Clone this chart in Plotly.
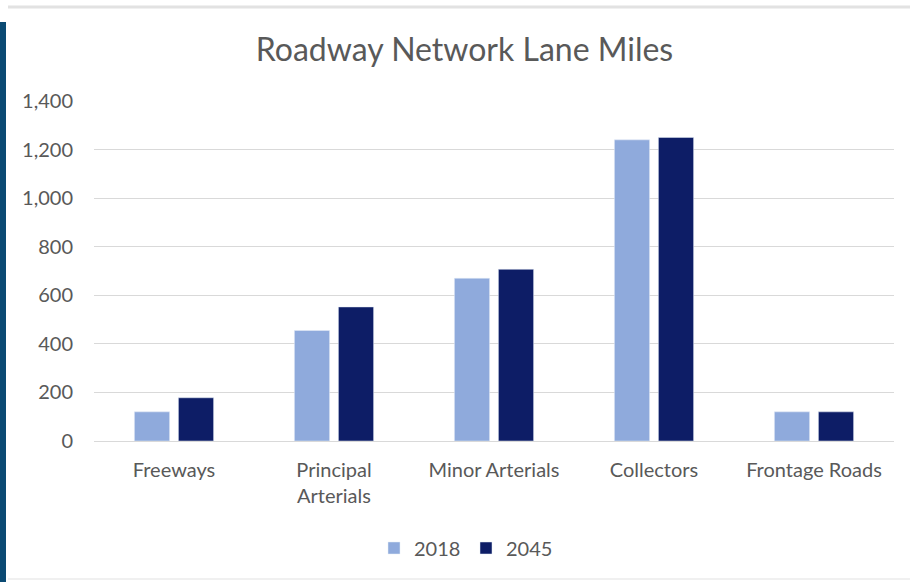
import plotly.graph_objects as go

categories = ["Freeways", "Principal<br>Arterials", "Minor Arterials", "Collectors", "Frontage Roads"]
values_2018 = [120, 455, 670, 1240, 120]
values_2045 = [178, 552, 707, 1250, 120]
tick_vals = [0, 200, 400, 600, 800, 1000, 1200, 1400]

fig = go.Figure()
fig.add_trace(go.Bar(name="2018", x=categories, y=values_2018, marker_color="#8faadc"))
fig.add_trace(go.Bar(name="2045", x=categories, y=values_2045, marker_color="#0d1d66"))

font_family = "Lato, 'Open Sans', sans-serif"
grey = "#595959"
fig.update_layout(
    width=911, height=582,
    margin=dict(l=94, r=17, t=101, b=141),
    paper_bgcolor="white", plot_bgcolor="white",
    barmode="group", bargap=0.45, bargroupgap=0.2,
    title=dict(text="Roadway Network Lane Miles", x=464.5 / 911, xanchor="center",
               y=1 - 50 / 582, yanchor="middle",
               font=dict(family=font_family, size=32, color=grey)),
    font=dict(family=font_family, size=20, color=grey),
    xaxis=dict(showgrid=False, showline=False, ticks="", ticklabelstandoff=15,
               tickfont=dict(size=20, color=grey), automargin=False),
    yaxis=dict(range=[0, 1400], tickvals=tick_vals, tickformat=",", showgrid=True,
               gridcolor="#d9d9d9", gridwidth=1, zeroline=True, zerolinecolor="#d9d9d9",
               zerolinewidth=1, showline=False, ticks="", ticklabelstandoff=20,
               tickfont=dict(size=20, color=grey), automargin=False),
    legend=dict(orientation="h", x=(466 - 94) / 800, xanchor="center",
                y=1 - (548 - 101) / 340, yanchor="middle", font=dict(size=20, color=grey),
                itemwidth=30, traceorder="normal", entrywidth=47, entrywidthmode="pixels"),
    shapes=[
        dict(type="rect", xref="paper", yref="paper", x0=-94/800, x1=-88/800,
             y0=(441 - 582) / 340, y1=(441 - 22) / 340, fillcolor="#0b4a73", line_width=0,
             layer="above"),
        dict(type="line", xref="paper", yref="paper", x0=-86/800, x1=(910 - 94)/800,
             y0=(441 - 7) / 340, y1=(441 - 7) / 340, line=dict(color="#e2e2e2", width=3)),
        dict(type="line", xref="paper", yref="paper", x0=-86/800, x1=(910 - 94)/800,
             y0=(441 - 579) / 340, y1=(441 - 579) / 340, line=dict(color="#f0f0f0", width=2)),
    ],
)

fig.write_html("out.html", config={"displayModeBar": False},
               post_script="document.body.style.margin='0';")
